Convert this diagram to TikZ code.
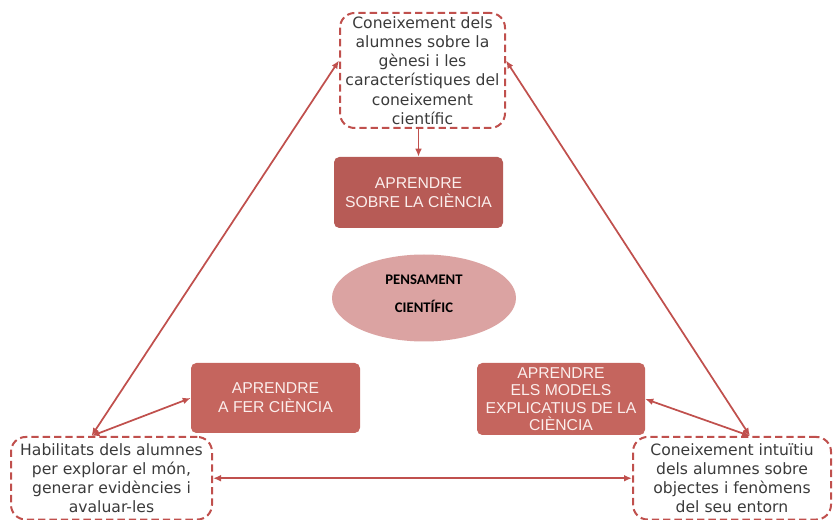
\documentclass[tikz,border=0pt]{standalone}
\usepackage{fontspec}
\usetikzlibrary{calc,arrows.meta,shapes.geometric}
\newfontfamily\verdfont{DejaVu Sans}
\newfontfamily\arialfont{Liberation Sans}
\newfontfamily\calfont{Carlito}
\definecolor{linered}{HTML}{C0504D}
\definecolor{darkbox}{HTML}{B75B56}
\definecolor{midbox}{HTML}{C5655E}
\definecolor{ellfill}{HTML}{DBA3A2}
\definecolor{boxtext}{HTML}{3A3A3A}
\definecolor{redtext}{HTML}{FBEEEC}

\begin{document}
\begin{tikzpicture}[x=0.75pt,y=-0.75pt,
every node/.style={
align=center,
inner sep=0pt,
},
dashbox/.style={
draw=linered,
line width=1.5pt,
dash pattern=on 5.5pt off 3pt,
rounded corners=11pt,
text=boxtext,
font=\verdfont\fontsize{11.7}{14.4}\selectfont,
},
redbox/.style={
rounded corners=4pt,
text=redtext,
font=\arialfont\fontsize{11.8}{14.25}\selectfont,
},
link/.style={
draw=linered,
line width=1.3pt,
{Latex[length=6pt,width=5pt]}-{Latex[length=6pt,width=5pt]},
}]

\useasboundingbox (0,0) rectangle (833,520);

%knowledge boxes
\node[dashbox,minimum width=123.75pt,minimum height=86.25pt](gen)at(422.5,70.5){Coneixement dels\\alumnes sobre la\\gènesi i les\\característiques del\\coneixement\\científic};
\node[dashbox,minimum width=150.75pt,minimum height=61.9pt](hab)at(111.5,478.25){Habilitats dels alumnes\\per explorar el món,\\generar evidències i\\avaluar-les};
\node[dashbox,minimum width=148.5pt,minimum height=61.9pt](ent)at(732,478.25){Coneixement intuïtiu\\dels alumnes sobre\\objectes i fenòmens\\del seu entorn};

%learning boxes
\node[redbox,fill=darkbox,minimum width=126.75pt,minimum height=53.25pt](sobre)at(418.5,192.5){APRENDRE\\SOBRE LA CIÈNCIA};
\node[redbox,fill=midbox,minimum width=126.75pt,minimum height=52.5pt](fer)at(275.5,398){APRENDRE\\A FER CIÈNCIA};
\node[redbox,fill=midbox,minimum width=126pt,minimum height=54pt,
font=\arialfont\fontsize{11.8}{13}\selectfont](models)at(561,399){APRENDRE\\ELS MODELS\\EXPLICATIUS DE LA\\CIÈNCIA};

%centre
\node[ellipse,fill=ellfill,minimum width=138pt,minimum height=65.25pt,text depth=6pt,
font=\calfont\bfseries\fontsize{11}{21}\selectfont](pens)at(424,298){PENSAMENT\\CIENTÍFIC};

%connectors
\draw[draw=linered,line width=1.3pt,-{Latex[length=6pt,width=5pt]}] (gen.south -| sobre.north) -- (sobre.north);
\draw[link] ($(gen.west)+(0,-10)$) -- ($(hab.north)+(-20,0)$);
\draw[link] (fer.west) -- ($(hab.north)+(-20,0)$);
\draw[link] ($(gen.east)+(0,-10)$) -- ($(ent.north)+(18,0)$);
\draw[link] (models.east) -- ($(ent.north)+(18,0)$);
\draw[link] (hab.east) -- (ent.west);
\end{tikzpicture}
\end{document}
